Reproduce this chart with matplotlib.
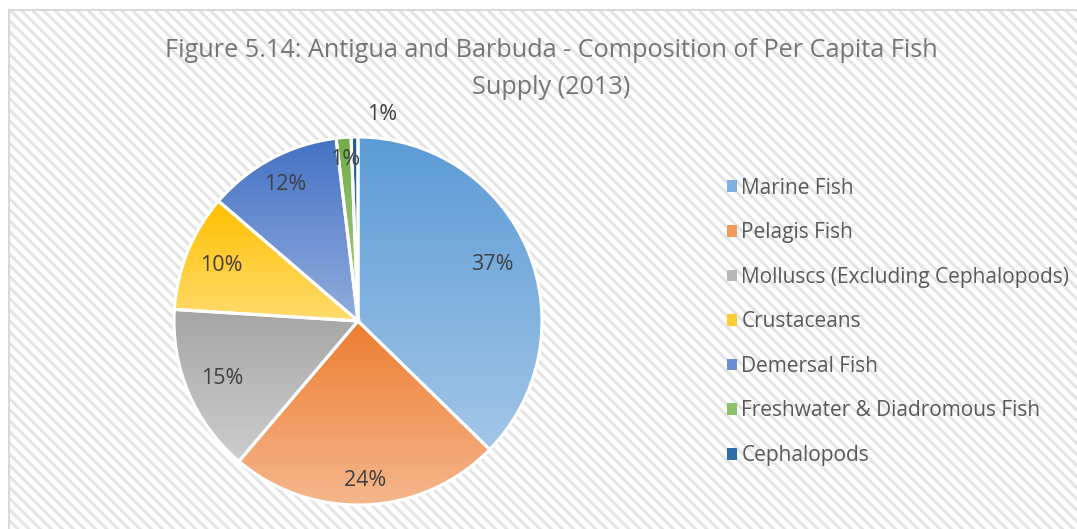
#!/usr/bin/env python
"""
pie chart: composition of per capita fish supply, Antigua and Barbuda 2013
"""
import numpy as np
import matplotlib
matplotlib.use('Agg')
import matplotlib.pyplot as plt
from matplotlib.patches import Rectangle, Patch
from matplotlib.colors import LinearSegmentedColormap

categories = ['Marine Fish', 'Pelagis Fish', 'Molluscs (Excluding Cephalopods)',
              'Crustaceans', 'Demersal Fish', 'Freshwater & Diadromous Fish', 'Cephalopods']
shares = [37.3, 23.9, 14.8, 10.3, 11.8, 1.3, 0.6]
title = 'Figure 5.14: Antigua and Barbuda - Composition of Per Capita Fish\nSupply (2013)'

# gradient colours per slice: (top, bottom)
grad = [('#5B9BD5', '#A2C6E8'), ('#ED7D31', '#F5B78D'), ('#A5A5A5', '#CDCDCD'),
        ('#FFC000', '#FFDB6E'), ('#4472C4', '#93ADDD'), ('#70AD47', '#A9D18E'),
        ('#255E91', '#3F7FBF')]
legcol = ['#7EB0E0', '#F29A5C', '#B8B8B8', '#FFCB35', '#6A8FD2', '#8CC06A', '#2E6DA8']
lbl_dist = [0.79, 0.87, 0.80, 0.80, 0.84, 0.88, 1.12]

plt.rcParams['font.family'] = ['Open Sans', 'DejaVu Sans']
plt.rcParams['hatch.color'] = '#E4E4E4'
plt.rcParams['hatch.linewidth'] = 2.2

W, H = 1077, 529
fig = plt.figure(figsize=(W/100, H/100), dpi=100, facecolor='white')

# hatched chart background + border (top / left only visible)
fig.patches.append(Rectangle((9/W, -0.05), 1.1, 1.05 - 10/H, transform=fig.transFigure,
                             facecolor='white', edgecolor=None, linewidth=0,
                             hatch='\\\\\\', zorder=-2))
fig.patches.append(Rectangle((9/W, -0.05), 1.1, 1.05 - 10/H, transform=fig.transFigure,
                             facecolor='none', edgecolor='#D9D9D9', linewidth=1.5, zorder=-1))

fig.text(551/W, 1 - 69/H, title, ha='center', va='center', fontsize=18.2,
         color='#757575', linespacing=1.65)

cx, cy, R = 358, 321, 184
ax = fig.add_axes([(cx - R)/W, (H - cy - R)/H, 2*R/W, 2*R/H])
ax.set_facecolor('none')

wedges, _ = ax.pie(shares, startangle=90, counterclock=False, radius=1.0,
                   wedgeprops=dict(edgecolor='white', linewidth=2.2, facecolor='none'))

for w, (ctop, cbot) in zip(wedges, grad):
    ext = w.get_path().get_extents()
    cmap = LinearSegmentedColormap.from_list('g', [cbot, ctop])
    g = np.linspace(0, 1, 256).reshape(-1, 1)
    im = ax.imshow(g, cmap=cmap, origin='lower', aspect='auto',
                   extent=[ext.x0, ext.x1, ext.y0, ext.y1], zorder=1)
    im.set_clip_path(w)
    w.set_zorder(2)

# percent labels
for i, (w, d) in enumerate(zip(wedges, lbl_dist)):
    ang = np.deg2rad((w.theta1 + w.theta2) / 2)
    x, y = d*np.cos(ang), d*np.sin(ang)
    if i == len(wedges) - 1:
        x = 0.13  # excel best-fit puts the tiny slice label to the right
    ax.text(x, y, '%d%%' % round(shares[i]), ha='center', va='center',
            fontsize=15.5, color='#404040', zorder=3)

ax.set_xlim(-1, 1)
ax.set_ylim(-1, 1)
ax.axis('off')

handles = [Patch(facecolor=c, edgecolor='none') for c in legcol]
leg = fig.legend(handles, categories, loc='upper left',
                 bbox_to_anchor=(708/W, 1 - 159/H), frameon=False, fontsize=15,
                 handlelength=0.5, handleheight=0.5, handletextpad=0.2,
                 labelspacing=1.13, labelcolor='#595959')

fig.savefig('out.png', dpi=100, facecolor='white')
